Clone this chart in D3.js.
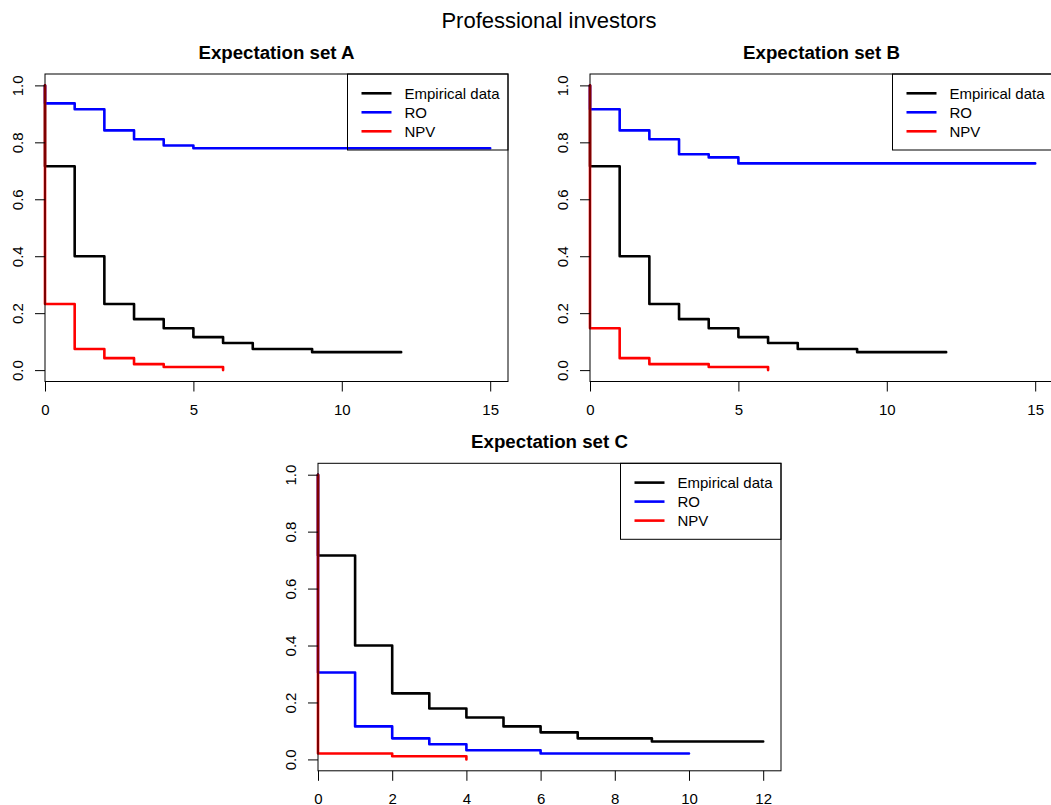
<!DOCTYPE html>
<html>
<head>
<meta charset="utf-8">
<script src="https://cdnjs.cloudflare.com/ajax/libs/d3/7.8.5/d3.min.js"></script>
<style>
    body { margin: 0; background: #fff; }
    svg { display: block; font-family: "Liberation Sans", Arial, Helvetica, sans-serif; }
</style>
</head>
<body>
<div id="chart"></div>
<script>
// Survival-type step curves: times where the curve steps, value after the step, end time
var empiricalTimes = [0, 1, 2, 3, 4, 5, 6, 7, 9];
var empiricalValues = [0.716, 0.400, 0.232, 0.179, 0.147, 0.116, 0.095, 0.074, 0.063];
var empiricalEnd = 12;

var roTimesA = [0, 1, 2, 3, 4, 5];
var roValuesA = [0.937, 0.916, 0.842, 0.811, 0.789, 0.779];
var roEndA = 15;
var npvTimesA = [0, 1, 2, 3, 4, 6];
var npvValuesA = [0.232, 0.074, 0.042, 0.021, 0.011, 0];
var npvEndA = 6;

var roTimesB = [0, 1, 2, 3, 4, 5];
var roValuesB = [0.916, 0.842, 0.811, 0.758, 0.747, 0.726];
var roEndB = 15;
var npvTimesB = [0, 1, 2, 4, 6];
var npvValuesB = [0.147, 0.042, 0.021, 0.011, 0];
var npvEndB = 6;

var roTimesC = [0, 1, 2, 3, 4, 6];
var roValuesC = [0.305, 0.116, 0.074, 0.053, 0.032, 0.021];
var roEndC = 10;
var npvTimesC = [0, 2, 4];
var npvValuesC = [0.021, 0.011, 0];
var npvEndC = 4;

var xTicksAB = [0, 5, 10, 15];
var xTicksC = [0, 2, 4, 6, 8, 10, 12];
var yTicks = [0, 0.2, 0.4, 0.6, 0.8, 1.0];
var legendLabels = ['Empirical data', 'RO', 'NPV'];
var seriesColors = ['#000000', '#0000ff', '#ff0000'];

var mainTitle = 'Professional investors';

var panels = [
    {title: 'Expectation set A', left: 45, top: 74, xMax: 15, xTicks: xTicksAB,
     series: [[empiricalTimes, empiricalValues, empiricalEnd], [roTimesA, roValuesA, roEndA], [npvTimesA, npvValuesA, npvEndA]]},
    {title: 'Expectation set B', left: 590, top: 74, xMax: 15, xTicks: xTicksAB,
     series: [[empiricalTimes, empiricalValues, empiricalEnd], [roTimesB, roValuesB, roEndB], [npvTimesB, npvValuesB, npvEndB]]},
    {title: 'Expectation set C', left: 318, top: 463.3, xMax: 12, xTicks: xTicksC,
     series: [[empiricalTimes, empiricalValues, empiricalEnd], [roTimesC, roValuesC, roEndC], [npvTimesC, npvValuesC, npvEndC]]}
];

var plotW = 463, plotH = 307.5;

var svg = d3.select('#chart').append('svg')
    .attr('width', 1051)
    .attr('height', 805);

svg.append('text')
    .attr('x', 549)
    .attr('y', 28)
    .attr('text-anchor', 'middle')
    .style('font-size', '22px')
    .text(mainTitle);

// turn step data into points for curveStepAfter, curve starts at 1 at t = 0
function stepPoints(times, values, end) {
    var pts = [[0, 1]];
    times.forEach(function (t, i) { pts.push([t, values[i]]); });
    pts.push([end, values[values.length - 1]]);
    return pts;
}

panels.forEach(function (p) {
    // plot.survfit style: x starts at 0, 4% extra only on the right; y gets 4% on both sides
    var x = d3.scaleLinear().domain([0, p.xMax * 1.04]).range([0, plotW]);
    var y = d3.scaleLinear().domain([-0.04, 1.04]).range([plotH, 0]);

    var g = svg.append('g')
        .attr('transform', 'translate(' + p.left + ',' + p.top + ')');

    g.append('text')
        .attr('x', plotW / 2)
        .attr('y', -15)
        .attr('text-anchor', 'middle')
        .style('font-size', '18.7px')
        .style('font-weight', 'bold')
        .text(p.title);

    var line = d3.line()
        .x(function (d) { return x(d[0]); })
        .y(function (d) { return y(d[1]); })
        .curve(d3.curveStepAfter);

    p.series.forEach(function (s, i) {
        g.append('path')
            .attr('d', line(stepPoints(s[0], s[1], s[2])))
            .attr('fill', 'none')
            .attr('stroke', seriesColors[i])
            .attr('stroke-width', 2.6)
            .attr('stroke-linecap', 'round')
            .attr('stroke-linejoin', 'round');
    });

    // axes
    var xAxis = g.append('g')
        .attr('class', 'x axis')
        .attr('transform', 'translate(0,' + plotH + ')')
        .call(d3.axisBottom(x).tickValues(p.xTicks).tickSize(10).tickPadding(13).tickFormat(d3.format('d')));
    xAxis.select('.domain').remove();

    var yAxis = g.append('g')
        .attr('class', 'y axis')
        .call(d3.axisLeft(y).tickValues(yTicks).tickSize(10).tickFormat(d3.format('.1f')));
    yAxis.select('.domain').remove();
    yAxis.selectAll('.tick text')
        .attr('x', 0)
        .attr('y', -22)
        .attr('dy', 0)
        .attr('text-anchor', 'middle')
        .attr('transform', 'rotate(-90)');

    g.selectAll('.axis text')
        .attr('fill', '#000')
        .style('font-size', '15px')
        .style('font-family', '"Liberation Sans", Arial, Helvetica, sans-serif');
    g.selectAll('.axis line').attr('stroke', '#000');

    g.append('rect')
        .attr('width', plotW)
        .attr('height', plotH)
        .attr('fill', 'none')
        .attr('stroke', '#000')
        .attr('stroke-width', 1);

    // legend, top right, no fill
    var legW = 160.5, legH = 76;
    var leg = g.append('g')
        .attr('transform', 'translate(' + (plotW - legW) + ',0)');
    leg.append('rect')
        .attr('width', legW)
        .attr('height', legH)
        .attr('fill', 'none')
        .attr('stroke', '#000')
        .attr('stroke-width', 1);
    legendLabels.forEach(function (lab, i) {
        var ly = 19.3 + i * 19;
        leg.append('line')
            .attr('x1', 14).attr('x2', 44)
            .attr('y1', ly).attr('y2', ly)
            .attr('stroke', seriesColors[i])
            .attr('stroke-width', 2.6);
        leg.append('text')
            .attr('x', 57)
            .attr('y', ly)
            .attr('dy', '0.35em')
            .style('font-size', '15px')
            .text(lab);
    });
});
</script>
</body>
</html>
